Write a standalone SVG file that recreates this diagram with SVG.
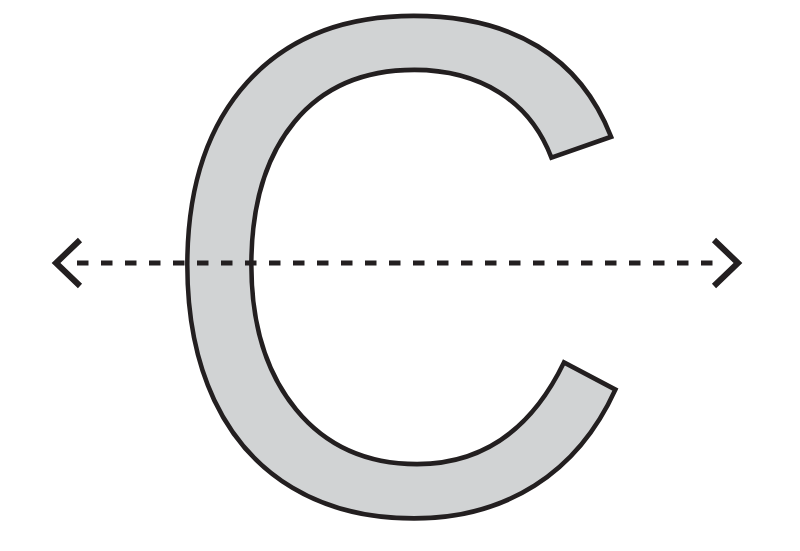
<svg xmlns="http://www.w3.org/2000/svg" width="800" height="551" viewBox="0 0 800 551">
<style>
.glyph{font-family:"Liberation Sans",Arial,sans-serif;font-size:676px;fill:#d1d3d4;stroke:#231f20;stroke-width:4.5;stroke-linejoin:miter}
.dash{fill:none;stroke:#231f20;stroke-width:5;stroke-dasharray:11.5 12.5}
.head{fill:none;stroke:#231f20;stroke-width:6;stroke-linecap:butt;stroke-linejoin:miter}
</style>
<rect width="800" height="551" fill="#ffffff"/>
<g id="letter-c">
<text class="glyph" x="153" y="512" transform="translate(0,522) scale(1,1.05) translate(0,-522)">C</text>
</g>
<g id="connectors">
<line class="dash" x1="77" y1="263" x2="718" y2="263"/>
<polyline class="head" points="80,240 56,263 80,286"/>
<polyline class="head" points="714,240 738,263 714,286"/>
</g>
</svg>
